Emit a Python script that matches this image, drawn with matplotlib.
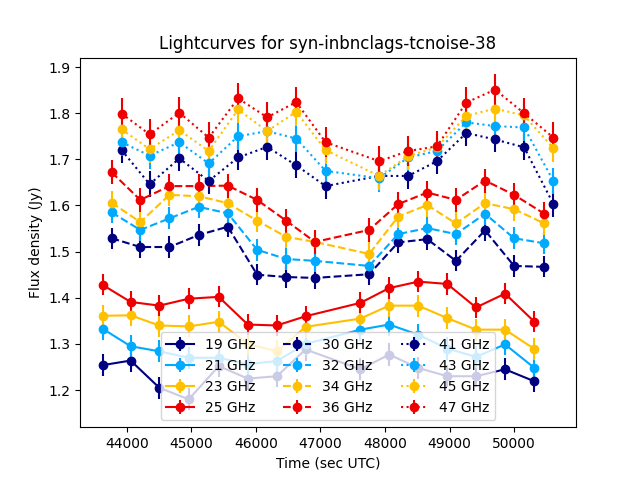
import matplotlib
matplotlib.use("Agg")
import matplotlib.pyplot as plt

# observation times (sec UTC), one set per band group
t_solid = [43625, 44060, 44505, 44960, 45425, 45875, 46325, 46770,
           47620, 48065, 48515, 48965, 49410, 49860, 50315]
t_dash = [43765, 44210, 44660, 45115, 45565, 46020, 46470, 46915,
          47755, 48205, 48655, 49100, 49550, 50000, 50470]
t_dot = [43920, 44355, 44815, 45270, 45725, 46175, 46625, 47080,
         47910, 48360, 48805, 49260, 49705, 50155, 50610]

# flux densities (Jy)
f19 = [1.254, 1.264, 1.205, 1.180, 1.252, 1.225, 1.230, 1.288,
       1.245, 1.277, 1.248, 1.230, 1.230, 1.245, 1.219]
f21 = [1.333, 1.295, 1.284, 1.270, 1.270, 1.256, 1.263, 1.300,
       1.331, 1.342, 1.320, 1.290, 1.272, 1.299, 1.248]
f23 = [1.361, 1.362, 1.340, 1.338, 1.348, 1.300, 1.284, 1.337,
       1.355, 1.383, 1.383, 1.356, 1.331, 1.331, 1.289]
f25 = [1.428, 1.391, 1.383, 1.398, 1.402, 1.342, 1.340, 1.360,
       1.389, 1.421, 1.435, 1.430, 1.379, 1.409, 1.348]
f30 = [1.529, 1.510, 1.510, 1.536, 1.554, 1.450, 1.445, 1.443,
       1.451, 1.520, 1.527, 1.480, 1.546, 1.469, 1.467]
f32 = [1.585, 1.547, 1.572, 1.597, 1.583, 1.504, 1.484, 1.480,
       1.469, 1.538, 1.551, 1.538, 1.582, 1.529, 1.518]
f34 = [1.606, 1.564, 1.623, 1.620, 1.605, 1.567, 1.532, 1.521,
       1.495, 1.576, 1.601, 1.561, 1.605, 1.592, 1.561]
f36 = [1.672, 1.612, 1.642, 1.642, 1.643, 1.612, 1.567, 1.521,
       1.547, 1.603, 1.628, 1.612, 1.654, 1.623, 1.582]
f41 = [1.720, 1.646, 1.702, 1.653, 1.704, 1.727, 1.687, 1.642,
       1.664, 1.664, 1.696, 1.757, 1.743, 1.726, 1.603]
f43 = [1.737, 1.708, 1.737, 1.691, 1.750, 1.761, 1.745, 1.675,
       1.659, 1.704, 1.718, 1.780, 1.772, 1.769, 1.653]
f45 = [1.765, 1.722, 1.763, 1.718, 1.808, 1.761, 1.803, 1.720,
       1.664, 1.707, 1.726, 1.794, 1.810, 1.795, 1.724]
f47 = [1.799, 1.754, 1.801, 1.747, 1.832, 1.791, 1.824, 1.737,
       1.696, 1.718, 1.728, 1.823, 1.851, 1.800, 1.747]

# typical 1-sigma error per band (Jy)
err = {19: 0.024, 21: 0.024, 23: 0.024, 25: 0.023,
       30: 0.023, 32: 0.024, 34: 0.025, 36: 0.026,
       41: 0.028, 43: 0.029, 45: 0.030, 47: 0.033}

colours = ["#000080", "#00aaff", "#ffc000", "#ee0000"]

groups = [
    ("-", t_solid, [(19, f19), (21, f21), (23, f23), (25, f25)]),
    ("--", t_dash, [(30, f30), (32, f32), (34, f34), (36, f36)]),
    (":", t_dot, [(41, f41), (43, f43), (45, f45), (47, f47)]),
]

fig, ax = plt.subplots(figsize=(6.4, 4.8), dpi=100)
for ls, t, bands in groups:
    for c, (freq, flux) in zip(colours, bands):
        ax.errorbar(t, flux, yerr=[err[freq]] * len(flux), fmt="o", ls=ls,
                    color=c, label=f"{freq} GHz")

ax.legend(loc="lower center", ncol=3)
ax.set_title("Lightcurves for syn-inbnclags-tcnoise-38")
ax.set_xlabel("Time (sec UTC)")
ax.set_ylabel("Flux density (Jy)")
fig.savefig("out.png")
